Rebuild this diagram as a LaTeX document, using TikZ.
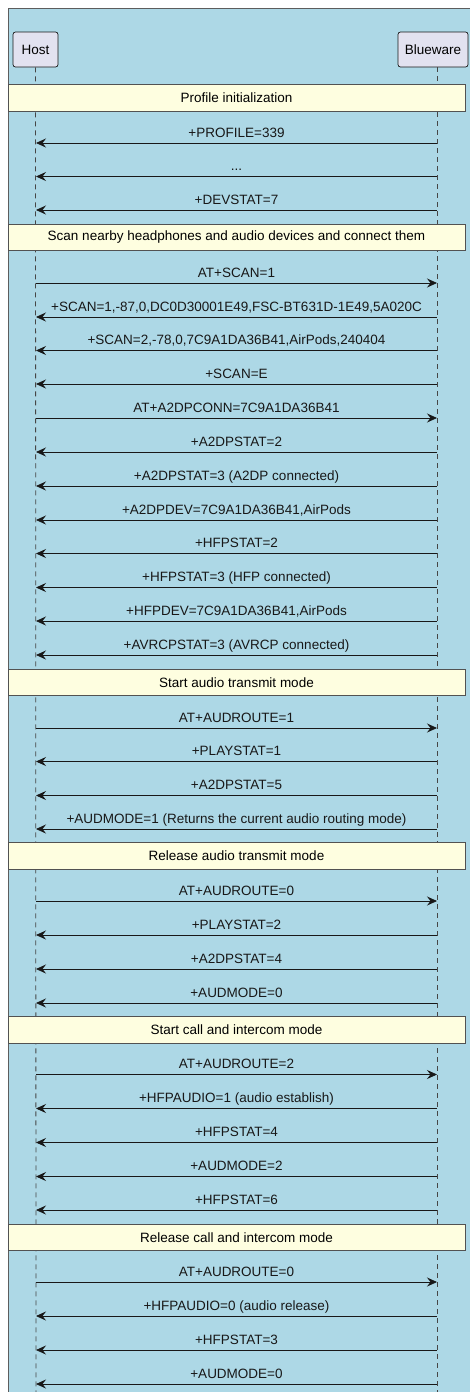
\documentclass[tikz,border=0pt]{standalone}
\usepackage{fontspec}
\setmainfont{Liberation Sans}
\usetikzlibrary{arrows.meta}
\definecolor{boxbg}{HTML}{ADD8E6}
\definecolor{partfill}{HTML}{E2E2F0}
\definecolor{sectfill}{HTML}{FEFEE0}
\definecolor{ink}{HTML}{181818}
\newcommand\txtsize{\fontsize{13.5}{15}\selectfont}
\tikzset{
  part/.style={draw=ink, fill=partfill, rounded corners=2.5pt, line width=0.7pt,
    minimum height=35pt, inner sep=0pt, font=\txtsize},
  life/.style={draw=ink!80, line width=0.8pt, dash pattern=on 5pt off 4pt},
  sect/.style={draw=ink!75, fill=sectfill, line width=0.8pt, minimum width=457pt,
    minimum height=26.5pt, inner sep=0pt, font=\txtsize},
  msg/.style={draw=ink, line width=0.8pt, -{Stealth[length=10pt,width=9pt,inset=3.5pt]}},
  lbl/.style={midway, anchor=base, yshift=6pt, inner sep=0pt, font=\txtsize, text=ink},
  frame/.style={draw=ink!70, fill=boxbg, line width=0.8pt}
}
\newcommand\lmsg[3]{% Blueware -> Host
  \coordinate (#1h) at (36,#2); \coordinate (#1b) at (437,#2);
  \draw[msg] (#1b) -- node[lbl]{#3} (#1h);}
\newcommand\rmsg[3]{% Host -> Blueware
  \coordinate (#1h) at (36,#2); \coordinate (#1b) at (437,#2);
  \draw[msg] (#1h) -- node[lbl]{#3} (#1b);}
\begin{document}
\begin{tikzpicture}[x=1pt,y=-1pt]
\useasboundingbox[fill=white] (0,0) rectangle (470,1392);
\path[frame] (8.5,8.5) rectangle (480,1400);
% participants
\node[part, minimum width=45pt] (host) at (35.5,49.5) {Host};
\node[part, minimum width=70pt] (blue) at (433,49.5) {Blueware};
\coordinate (hostend) at (36,1392);
\coordinate (blueend) at (437,1392);
\draw[life] (host.south) -- (hostend);
\draw[life] (host.south -| blueend) -- (blueend);
% sections
\node[sect] (s1) at (236.5,98) {Profile initialization};
\node[sect] (s2) at (236.5,237.5) {Scan nearby headphones and audio devices and connect them};
\node[sect] (s3) at (236.5,682.5) {Start audio transmit mode};
\node[sect] (s4) at (236.5,856) {Release audio transmit mode};
\node[sect] (s5) at (236.5,1030) {Start call and intercom mode};
\node[sect] (s6) at (236.5,1237.5) {Release call and intercom mode};
% messages
\lmsg{m1}{143}{+PROFILE=339}
\lmsg{m2}{176.5}{...}
\lmsg{m3}{210}{+DEVSTAT=7}
\rmsg{m4}{283}{AT+SCAN=1}
\lmsg{m5}{317}{+SCAN=1,-87,0,DC0D30001E49,FSC-BT631D-1E49,5A020C}
\lmsg{m6}{350.5}{+SCAN=2,-78,0,7C9A1DA36B41,AirPods,240404}
\lmsg{m7}{384}{+SCAN=E}
\rmsg{m8}{418}{AT+A2DPCONN=7C9A1DA36B41}
\lmsg{m9}{452}{+A2DPSTAT=2}
\lmsg{m10}{486}{+A2DPSTAT=3 (A2DP connected)}
\lmsg{m11}{520}{+A2DPDEV=7C9A1DA36B41,AirPods}
\lmsg{m12}{553.5}{+HFPSTAT=2}
\lmsg{m13}{587.5}{+HFPSTAT=3 (HFP connected)}
\lmsg{m14}{621}{+HFPDEV=7C9A1DA36B41,AirPods}
\lmsg{m15}{655}{+AVRCPSTAT=3 (AVRCP connected)}
\rmsg{m16}{728}{AT+AUDROUTE=1}
\lmsg{m17}{761.5}{+PLAYSTAT=1}
\lmsg{m18}{795.5}{+A2DPSTAT=5}
\lmsg{m19}{829}{+AUDMODE=1 (Returns the current audio routing mode)}
\rmsg{m20}{901}{AT+AUDROUTE=0}
\lmsg{m21}{935}{+PLAYSTAT=2}
\lmsg{m22}{969}{+A2DPSTAT=4}
\lmsg{m23}{1003}{+AUDMODE=0}
\rmsg{m24}{1074.5}{AT+AUDROUTE=2}
\lmsg{m25}{1108.5}{+HFPAUDIO=1 (audio establish)}
\lmsg{m26}{1142.5}{+HFPSTAT=4}
\lmsg{m27}{1176.5}{+AUDMODE=2}
\lmsg{m28}{1210}{+HFPSTAT=6}
\rmsg{m29}{1282}{AT+AUDROUTE=0}
\lmsg{m30}{1316}{+HFPAUDIO=0 (audio release)}
\lmsg{m31}{1350}{+HFPSTAT=3}
\lmsg{m32}{1384}{+AUDMODE=0}
\end{tikzpicture}
\end{document}
